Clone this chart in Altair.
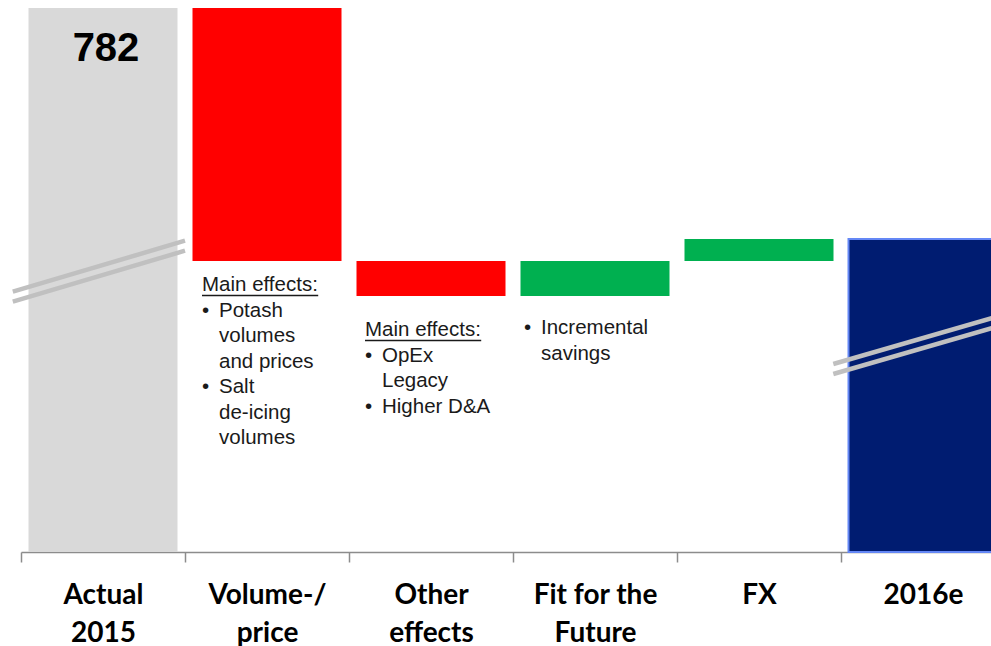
import altair as alt
import pandas as pd

# EBIT I bridge 2015 -> 2016e, EUR million
categories = ["Actual|2015", "Volume-/|price", "Other|effects", "Fit for the|Future", "FX", "2016e"]
start_value = 782
changes = [-253, -35, 35, 22]  # Volume-/price, Other effects, Fit for the Future, FX

# Notes printed beneath the change bars
note_categories = ["Volume-/|price", "Other|effects", "Fit for the|Future"]
note_headings = ["Main effects:", "Main effects:", ""]
note_bullets = [
    [["Potash", "volumes", "and prices"], ["Salt", "de-icing", "volumes"]],
    [["OpEx", "Legacy"], ["Higher D&A"]],
    [["Incremental", "savings"]],
]

# ---------------------------------------------------------------- layout
W, H = 970, 544            # plot area (the last column runs past the right edge)
STEP = 164                 # px per category
FULL = STEP * len(categories)
BASE = start_value - H     # value at the broken baseline (1 unit = 1 px)
BAR_W = 149

NOTE_FONT = 20.5
LINE = 25.5                # note line spacing (value units == px)
NOTE_X = [17, 16, 11]      # px from band start to the note's left edge
NOTE_GAP = [24, 34, 32]    # px from bar bottom to first note line
BULLET_INDENT = 17

# waterfall table
rows = []
running = start_value
rows.append(dict(cat=categories[0], lo=BASE, hi=start_value, kind="total"))
for cat, c in zip(categories[1:-1], changes):
    prev = running
    running += c
    rows.append(dict(cat=cat, lo=min(prev, running), hi=max(prev, running),
                     kind="decrease" if c < 0 else "increase"))
rows.append(dict(cat=categories[-1], lo=BASE, hi=running, kind="end"))
bars = pd.DataFrame(rows)

# notes table (x in category units on a linear overlay scale)
ARIAL = {"M": .833, "a": .556, "i": .222, "n": .556, " ": .278, "e": .556,
         "f": .278, "c": .5, "t": .278, "s": .5, ":": .278}
note_rows, underline_rows = [], []
for k, cat in enumerate(note_categories):
    idx = categories.index(cat)
    bottom = bars.loc[bars.cat == cat, "lo"].iloc[0]
    x0 = idx + NOTE_X[k] / STEP
    y = bottom - NOTE_GAP[k]
    if note_headings[k]:
        note_rows.append(dict(x=x0, y=y, text=note_headings[k]))
        width = sum(ARIAL.get(ch, .556) for ch in note_headings[k]) * NOTE_FONT
        underline_rows.append(dict(x=x0, x2=x0 + width / STEP, y=y - 10.5))
        y -= LINE
    for bullet in note_bullets[k]:
        note_rows.append(dict(x=x0, y=y, text="\u2022"))
        for line in bullet:
            note_rows.append(dict(x=x0 + BULLET_INDENT / STEP, y=y, text=line))
            y -= LINE
notes = pd.DataFrame(note_rows)
underlines = pd.DataFrame(underline_rows)

# axis-break strokes across the two broken columns
breaks = pd.DataFrame(dict(
    x=[-0.05, -0.05, 4.953, 4.953],
    x2=[1.0, 1.0, 6.0, 6.0],
    y=[498.3, 488.3, 426.0, 416.0],
    y2=[549.3, 539.3, 475.7, 465.7],
))

# ---------------------------------------------------------------- chart
x_band = alt.X(
    "cat:N", sort=categories,
    scale=alt.Scale(range=[0, FULL], paddingInner=0, paddingOuter=0),
    axis=alt.Axis(
        title=None, tickBand="extent", labelAngle=0,
        labelExpr="datum.value ? split(datum.value, '|') : ''",
        labelFont="Lato", labelFontWeight="bold", labelFontSize=28,
        labelLineHeight=38, labelColor="#000000", labelPadding=19,
        labelBaseline="top",
        tickSize=10, tickColor="#8c8c8c", tickWidth=1.5,
        domainColor="#8c8c8c", domainWidth=1.5, grid=False,
    ),
)
y_scale = alt.Scale(domain=[BASE, start_value], zero=False, nice=False)


def y_enc(field):
    return alt.Y(field, scale=y_scale, axis=None)


bar_layer = alt.Chart(bars).mark_bar(width=BAR_W, clip=False).encode(
    x=x_band,
    y=y_enc("hi:Q"),
    y2="lo:Q",
    color=alt.Color("kind:N", legend=None, scale=alt.Scale(
        domain=["total", "decrease", "increase", "end"],
        range=["#d9d9d9", "#ff0000", "#00b050", "#001c71"])),
    stroke=alt.condition("datum.kind == 'end'", alt.value("#6487f5"), alt.value("transparent")),
    strokeWidth=alt.condition("datum.kind == 'end'", alt.value(2), alt.value(0)),
)

value_text = alt.Chart(bars.iloc[[0]]).mark_text(
    font="Liberation Sans", fontWeight="bold", fontSize=40, color="#000000",
    baseline="middle", dy=41, dx=3,
).encode(x=x_band, y=y_enc("hi:Q"), text=alt.value(str(start_value)))

band_part = alt.layer(bar_layer, value_text)

x_lin = alt.X("x:Q", scale=alt.Scale(domain=[0, len(categories)], range=[0, FULL]), axis=None)

break_layer = alt.Chart(breaks).mark_rule(
    color="#c0c0c0", strokeWidth=4.5, strokeCap="butt", clip=False
).encode(x=x_lin, x2="x2:Q", y=y_enc("y:Q"), y2="y2:Q")

note_layer = alt.Chart(notes).mark_text(
    font="Liberation Sans", fontSize=NOTE_FONT, color="#1a1a1a",
    align="left", baseline="middle",
).encode(x=x_lin, y=y_enc("y:Q"), text="text:N")

underline_layer = alt.Chart(underlines).mark_rule(
    color="#1a1a1a", strokeWidth=1.3
).encode(x=x_lin, x2="x2:Q", y=y_enc("y:Q"))

overlay = alt.layer(break_layer, note_layer, underline_layer)

chart = (
    alt.layer(band_part, overlay)
    .resolve_scale(x="independent")
    .properties(
        width=W, height=H,
        background="#ffffff",
        autosize=alt.AutoSizeParams(type="none"),
        padding={"left": 21, "top": 8, "right": 0, "bottom": 94},
    )
    .configure_view(strokeWidth=0, stroke="transparent")
    .configure_axis(grid=False)
)

chart.save("out.html", embed_options={"renderer": "svg", "actions": False})
